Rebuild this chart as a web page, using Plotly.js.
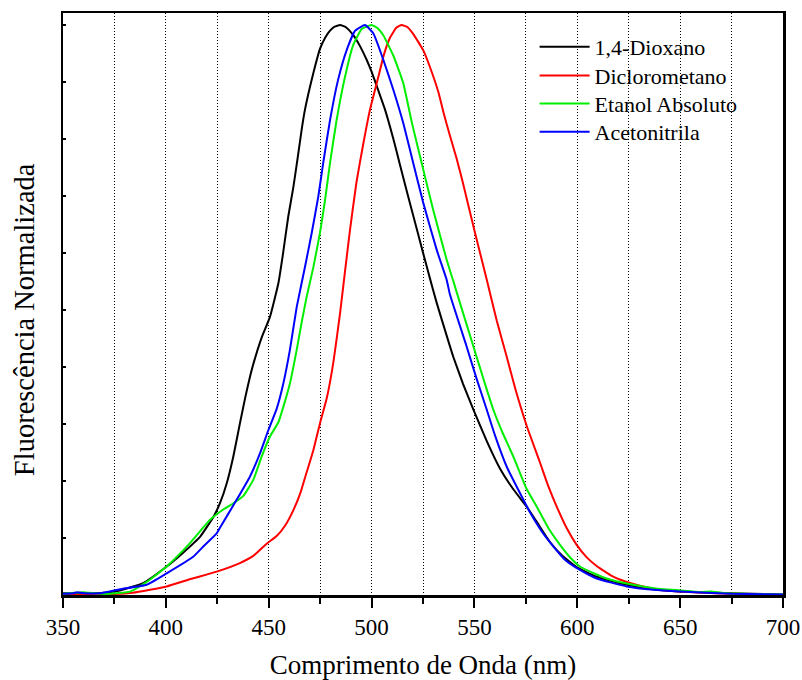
<!DOCTYPE html>
<html>
<head>
<meta charset="utf-8">
<script src="https://cdn.plot.ly/plotly-3.0.1.min.js"></script>
<style>html,body{margin:0;padding:0;background:#fff;}#chart{width:802px;height:680px;}</style>
</head>
<body>
<div id="chart"></div>
<script>
// Series names
const seriesNames = ["1,4-Dioxano", "Diclorometano", "Etanol Absoluto", "Acetonitrila"];
const seriesColors = ["#000000", "#ff0000", "#00ee00", "#0000ff"];

// 1,4-Dioxano
const dioxanoX = [350,360,370,377.7,389,400.4,408,416.6,423.1,426.3,429.6,432.8,436,438.5,440.9,442.5,446.6,450.6,454.7,456.8,459.5,462,464.4,466,467.6,470.1,472.5,474.9,477.5,479.8,482,484.7,487.5,491.1,494.5,497.6,500,502.5,506.5,510.6,513.8,517,520.3,525.2,528.4,531.7,536.5,539.7,544.5,549.5,556,562.4,569,575.4,580,586.7,593,599.7,609.4,624,637,650,675,700];
const dioxanoY = [0.003,0.003,0.004,0.008,0.021,0.05,0.073,0.102,0.137,0.161,0.196,0.243,0.301,0.345,0.383,0.405,0.452,0.488,0.547,0.595,0.664,0.716,0.775,0.816,0.851,0.892,0.927,0.958,0.978,0.99,0.997,1.0,0.996,0.982,0.962,0.939,0.918,0.893,0.852,0.8,0.755,0.71,0.665,0.598,0.555,0.512,0.455,0.418,0.37,0.325,0.27,0.222,0.185,0.155,0.13,0.093,0.068,0.049,0.032,0.018,0.01,0.006,0.003,0.001];

// Diclorometano
const dcmX = [350,370,384,400.4,412,424.7,436,443,449,454,458,462,465.5,468,471.7,474.9,478.2,481.5,484.7,487,489.5,492.7,496,499.2,503.3,506,509,512,514.6,517.5,520.3,525.2,528.5,532.5,535,538,541.4,544.6,550.3,556,560.8,565.7,570,575.4,581.9,586,590,594.9,599.7,604.6,609.4,617,625.6,637,650,675,700];
const dcmY = [0,0.001,0.004,0.015,0.028,0.041,0.056,0.07,0.09,0.104,0.122,0.149,0.18,0.21,0.254,0.301,0.345,0.41,0.495,0.565,0.64,0.725,0.792,0.851,0.909,0.948,0.978,0.995,1.0,0.996,0.984,0.955,0.925,0.882,0.846,0.807,0.765,0.72,0.635,0.553,0.482,0.418,0.36,0.297,0.232,0.19,0.155,0.117,0.088,0.066,0.051,0.033,0.021,0.011,0.006,0.002,0.0];

// Etanol Absoluto
const etanolX = [350,356,360,365,372,382.6,390.7,400.4,411.7,421.5,427.9,432.8,437.7,442.5,446.6,450.6,454.7,457.1,460.3,463.6,466,468.5,471.7,474.9,477.4,479.8,483,487.1,491.1,495.2,500,503,505.7,510.6,515.4,519.5,524.4,530,536.5,539.7,543,549.5,555,559.2,564,568.9,575.4,580.3,586,591.6,597,601.3,609.4,615,624,637,650,660,665,670,680,700];
const etanolY = [0.002,0.004,0.005,0.003,0.002,0.006,0.023,0.05,0.091,0.132,0.15,0.161,0.174,0.202,0.243,0.278,0.303,0.33,0.371,0.43,0.478,0.524,0.575,0.635,0.693,0.758,0.833,0.909,0.965,0.993,1.0,0.994,0.982,0.946,0.898,0.83,0.757,0.675,0.588,0.551,0.512,0.436,0.372,0.325,0.282,0.243,0.186,0.155,0.117,0.088,0.064,0.05,0.036,0.028,0.02,0.012,0.008,0.005,0.006,0.004,0.002,0.001];

// Acetonitrila
const acetoX = [350,355,357,360,368,377.7,390.7,400.4,413.3,418.2,424.7,426.3,434.4,440.9,445.8,449.8,453.9,457.1,460.3,463.6,467.6,470.9,474.1,476.5,479.8,483.8,487.9,492,496.8,500.9,505.7,510.6,515.4,520.3,525.2,531.7,536.5,538.1,546.2,551,556,560,565.7,573.8,577,583,588.4,594,601.3,609.4,624,637,650,675,700];
const acetoY = [0.002,0.003,0.005,0.003,0.003,0.01,0.018,0.038,0.067,0.085,0.108,0.118,0.167,0.208,0.249,0.289,0.327,0.371,0.43,0.505,0.575,0.635,0.699,0.758,0.833,0.905,0.956,0.99,1.0,0.985,0.939,0.886,0.828,0.757,0.687,0.605,0.553,0.527,0.436,0.38,0.325,0.28,0.225,0.167,0.145,0.11,0.085,0.062,0.044,0.029,0.015,0.009,0.006,0.002,0.001];

const xTickVals = [350,400,450,500,550,600,650,700];
const xTickText = ["350","400","450","500","550","600","650","700"];
const xTitle = "Comprimento de Onda (nm)";
const yTitle = "Fluorescência Normalizada";

const FONT = "Liberation Serif";

const xs = [dioxanoX, dcmX, etanolX, acetoX];
const ys = [dioxanoY, dcmY, etanolY, acetoY];
const legendIds = ["legend", "legend2", "legend3", "legend4"];
const legendY = [0.9778, 0.9285, 0.8804, 0.8318];

const traces = seriesNames.map((n, i) => ({
  x: xs[i], y: ys[i], name: n, type: "scatter", mode: "lines", legend: legendIds[i],
  line: {color: seriesColors[i], width: 2, shape: "spline", smoothing: 0.4}
}));

const layout = {
  width: 802, height: 680,
  margin: {l: 63, r: 19, t: 13, b: 85},
  paper_bgcolor: "#ffffff", plot_bgcolor: "#ffffff",
  font: {family: FONT, color: "#000000", size: 23},
  showlegend: true,
  xaxis: {
    range: [350, 700], tickmode: "array", tickvals: xTickVals, ticktext: xTickText,
    ticks: "outside", ticklen: 10, tickwidth: 2, tickcolor: "#000",
    showline: true, linewidth: 2.5, linecolor: "#000", mirror: true,
    showgrid: true, gridcolor: "#000", gridwidth: 1, griddash: "1px,2px",
    zeroline: false,
    tickfont: {family: FONT, size: 23, color: "#000"},
    minor: {dtick: 25, tick0: 350, ticks: "outside", ticklen: 6, tickwidth: 2, tickcolor: "#000",
            showgrid: true, gridcolor: "#000", gridwidth: 1, griddash: "1px,2px"},
    title: {text: xTitle, font: {family: FONT, size: 27, color: "#000"}, standoff: 16}
  },
  yaxis: {
    range: [0, 1.021], dtick: 0.1, tick0: 0,
    ticks: "inside", ticklen: 3, tickwidth: 2, tickcolor: "#000",
    showticklabels: false,
    showline: true, linewidth: 2.5, linecolor: "#000", mirror: true,
    showgrid: false, zeroline: false
  },
  annotations: [{
    text: yTitle, textangle: -90, showarrow: false,
    xref: "paper", yref: "paper", x: -0.054, y: 0.4725,
    xanchor: "center", yanchor: "middle",
    font: {family: FONT, size: 28.5, color: "#000"}
  }]
};

legendIds.forEach((id, i) => {
  layout[id] = {
    x: 0.655, y: legendY[i], xanchor: "left", yanchor: "top",
    bgcolor: "rgba(0,0,0,0)", borderwidth: 0,
    font: {family: FONT, size: 22, color: "#000"},
    itemwidth: 50
  };
});

Plotly.newPlot("chart", traces, layout, {displayModeBar: false, staticPlot: true});
</script>
</body>
</html>
